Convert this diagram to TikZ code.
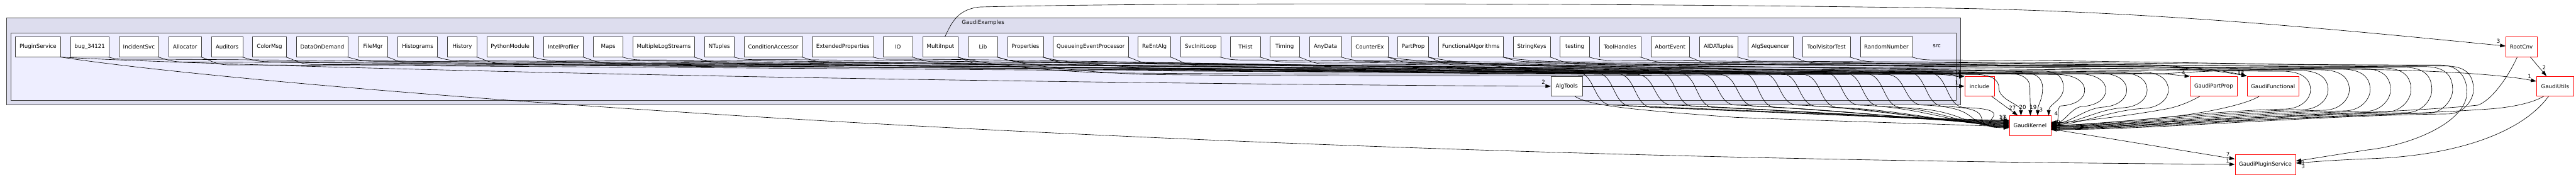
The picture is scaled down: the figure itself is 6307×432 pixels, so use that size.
\documentclass[tikz,border=0pt]{standalone}
\usepackage{fontspec}
\setmainfont{DejaVu Sans}
\usetikzlibrary{arrows.meta,calc}
\definecolor{clouter}{HTML}{DDDDEE}
\definecolor{clinner}{HTML}{EEEEFF}
\definecolor{bord}{HTML}{404040}
\newcommand\dnode[6]{%
  \pgfmathsetmacro\dnW{(#4-#3)*0.75}%
  \pgfmathsetmacro\dnC{(#3+#4)/2}%
  \node[#1, minimum width=\dnW pt] (#2) at (\dnC,#5) {#6};}
\begin{document}
\begin{tikzpicture}[x=0.75pt,y=-0.75pt,
  font=\fontsize{10}{12}\selectfont,
  dirbox/.style={draw=bord, fill=white, line width=0.75pt, minimum height=36.3pt, inner sep=0pt},
  extbox/.style={draw=red, fill=white, line width=0.75pt, minimum height=36.3pt, inner sep=0pt},
  edge/.style={draw=black, line width=0.75pt, -{Triangle[length=10pt,width=6.7pt]}},
  lab/.style={inner sep=0pt, font=\fontsize{10}{12}\selectfont}]
\useasboundingbox (0,0) rectangle (6307,432);
\fill[white] (0,0) rectangle (6307,432);
% clusters
\draw[fill=clouter, draw=bord, line width=0.75pt] (15.8,43.7) rectangle (4800.3,256);
\node[lab] (cGE) at (2407,55.7) {GaudiExamples};
\draw[fill=clinner, draw=bord, line width=0.75pt] (26.2,80) rectangle (4789.3,245);
\node[lab] (cSrc) at (4742,113) {src};
% top row
\dnode{dirbox}{t1}{37.5}{148.8}{114.5}{PluginService}
\dnode{dirbox}{t2}{172.9}{266.6}{114.5}{bug\_34121}
\dnode{dirbox}{t3}{291.4}{388.8}{114.5}{IncidentSvc}
\dnode{dirbox}{t4}{412.9}{493.5}{114.5}{Allocator}
\dnode{dirbox}{t5}{517.6}{594.4}{114.5}{Auditors}
\dnode{dirbox}{t6}{618.5}{701.2}{114.5}{ColorMsg}
\dnode{dirbox}{t7}{725.6}{852.7}{114.5}{DataOnDemand}
\dnode{dirbox}{t8}{877.1}{949.5}{114.5}{FileMgr}
\dnode{dirbox}{t9}{973.6}{1071.4}{114.5}{Histograms}
\dnode{dirbox}{t10}{1095.8}{1168.1}{114.5}{History}
\dnode{dirbox}{t11}{1191.6}{1306.6}{114.5}{PythonModule}
\dnode{dirbox}{t12}{1331.4}{1428.5}{114.5}{IntelProfiler}
\dnode{dirbox}{t13}{1453.0}{1525.3}{114.5}{Maps}
\dnode{dirbox}{t14}{1549.7}{1700.5}{114.5}{MultipleLogStreams}
\dnode{dirbox}{t15}{1724.3}{1798.0}{114.5}{NTuples}
\dnode{dirbox}{t16}{1821.8}{1964.7}{114.5}{ConditionAccessor}
\dnode{dirbox}{t17}{1988.8}{2138.6}{114.5}{ExtendedProperties}
\dnode{dirbox}{t18}{2162.4}{2234.7}{114.5}{IO}
\dnode{dirbox}{t19}{2259.1}{2345.9}{114.5}{MultiInput}
\dnode{dirbox}{t20}{2370.4}{2443.0}{114.5}{Lib}
\dnode{dirbox}{t21}{2466.5}{2554.6}{114.5}{Properties}
\dnode{dirbox}{t22}{2578.4}{2762.6}{114.5}{QueueingEventProcessor}
\dnode{dirbox}{t23}{2786.4}{2866.6}{114.5}{ReEntAlg}
\dnode{dirbox}{t24}{2891.1}{2988.5}{114.5}{SvcInitLoop}
\dnode{dirbox}{t25}{3013.0}{3085.7}{114.5}{THist}
\dnode{dirbox}{t26}{3109.1}{3181.4}{114.5}{Timing}
\dnode{dirbox}{t27}{3205.8}{3284.7}{114.5}{AnyData}
\dnode{dirbox}{t28}{3308.5}{3398.3}{114.5}{CounterEx}
\dnode{dirbox}{t29}{3422.1}{3497.9}{114.5}{PartProp}
\dnode{dirbox}{t30}{3521.6}{3680.7}{114.5}{FunctionalAlgorithms}
\dnode{dirbox}{t31}{3704.8}{3796.1}{114.5}{StringKeys}
\dnode{dirbox}{t32}{3819.5}{3891.8}{114.5}{testing}
\dnode{dirbox}{t33}{3915.6}{4017.2}{114.5}{ToolHandles}
\dnode{dirbox}{t34}{4041.7}{4136.7}{114.5}{AbortEvent}
\dnode{dirbox}{t35}{4160.5}{4255.2}{114.5}{AIDATuples}
\dnode{dirbox}{t36}{4278.9}{4390.2}{114.5}{AlgSequencer}
\dnode{dirbox}{t37}{4413.6}{4530.0}{114.5}{ToolVisitorTest}
\dnode{dirbox}{t38}{4554.4}{4682.5}{114.5}{RandomNumber}
% other nodes
\dnode{dirbox}{AT}{3797.8}{3873.9}{210.7}{AlgTools}
\dnode{extbox}{inc}{4810.3}{4882.6}{210.7}{include}
\dnode{extbox}{GK}{4919.5}{5021.4}{306.7}{GaudiKernel}
\dnode{extbox}{GPP}{5362.3}{5477.4}{210.7}{GaudiPartProp}
\dnode{extbox}{GF}{5501.8}{5628.5}{210.7}{GaudiFunctional}
\dnode{extbox}{GPS}{5472.2}{5620.6}{402.7}{GaudiPluginService}
\dnode{extbox}{RC}{6135.0}{6211.3}{114.5}{RootCnv}
\dnode{extbox}{GU}{6210.3}{6301.3}{210.7}{GaudiUtils}
% S-curve edges to GaudiKernel (left side)
\foreach \sn/\vx [count=\k from 0] in {t2/3903,t3/3951,t4/4003,t5/4051,t6/4103,t7/4154,t8/4206,t9/4254,t10/4305,t11/4357,t12/4405,t13/4457,t14/4509,t15/4560,t16/4612,t17/4664,t18/4715,t19/4767}{
  \pgfmathsetmacro\myb{144+mod(\k*7,15)}
  \pgfmathsetmacro\mys{176+mod(\k,4)*2}
  \pgfmathsetmacro\mye{257+mod(\k,3)*3}
  \pgfmathsetmacro\meo{-13+\k*1.1}
  \draw[edge] ($(\sn.south east)+(-3,0)$) .. controls +(25,7) and +(-40,0) .. ($(\sn.south east)+(70,\myb-138.5)$) .. controls +(400,0) and (\vx-400,\mys) .. (\vx-45,\mys) .. controls (\vx+5,\mys) and (\vx-5,\mye) .. (\vx+45,\mye) .. controls (\vx+200,\mye+5) and (4800,306.7+\meo) .. ($(GK.west)+(0,\meo)$);
}
% edges entering GaudiKernel from the top
\foreach \sn/\tx/\ex/\lx/\ly/\lab [count=\k from 0] in {t20/4894/4948/4952/262/20, t21/4970/4971/4978/263/19, t22/5001/4989/4997/268/3, t23/5052/5016/5034/277/4}{
  \pgfmathsetmacro\myb{150+\k*3}
  \pgfmathsetmacro\mys{182-\k*3}
  \draw[edge] ($(\sn.south east)+(-3,0)$) .. controls +(25,7) and +(-40,0) .. ($(\sn.south east)+(70,\myb-138.5)$) .. controls +(400,0) and (\tx-400,\mys) .. (\tx-60,\mys) .. controls (\tx-15,\mys) and (\tx,\mys+15) .. (\tx,215) .. controls (\tx,245) and (\ex,255) .. (\ex,282.7);
  \node[lab] (lt\k) at (\lx,\ly) {\lab};
}
% bulging edges entering GaudiKernel from the right
\foreach \sn/\bx [count=\k from 0] in {t24/5104,t25/5156,t26/5207,t27/5257,t28/5309,t29/5657,t30/5700,t31/5752,t32/5803,t33/5853,t34/5903,t35/5954,t36/6005,t38/6056}{
  \pgfmathsetmacro\myb{146+mod(\k*5,13)}
  \pgfmathsetmacro\mys{182-\k*1.6}
  \pgfmathsetmacro\mye{257+\k*1.5}
  \pgfmathsetmacro\meo{-8+\k*1.4}
  \pgfmathsetmacro\cA{\bx-60-0.35*(\bx-5081)}
  \pgfmathsetmacro\cB{5021+0.25*(\bx-5021)}
  \draw[edge] ($(\sn.south east)+(-3,0)$) .. controls +(25,7) and +(-40,0) .. ($(\sn.south east)+(70,\myb-138.5)$) .. controls +(400,0) and (\bx-400,\mys) .. (\bx-70,\mys) .. controls (\bx-20,\mys) and (\bx,\mys+20) .. (\bx,220) .. controls (\bx,240) and (\bx-20,\mye) .. (\bx-60,\mye+2) .. controls (\cA,\mye+6) and (\cB,306.7+\meo) .. ($(GK.east)+(0,\meo)$);
}
\node[lab] (lk1) at (4903,287) {17};
\node[lab] (lk2) at (4905,288) {16};
\node[lab] (lk3) at (5040,300) {9};
\node[lab] (lk4) at (5041,309) {5};
\node[lab] (lk5) at (5040,316) {3};
% ToolVisitorTest -> GaudiPluginService via far bulge
\draw[edge] ($(t37.south east)+(-3,0)$) .. controls +(25,7) and +(-40,0) .. ($(t37.south east)+(70,12)$) .. controls +(400,0) and (5640,159) .. (5975,159) .. controls (6020,159) and (6040,190) .. (6040,225) .. controls (6040,300) and (5900,355) .. (5800,366) .. controls (5720,378) and (5660,388) .. ($(GPS.east)+(0,-9)$);
\node[lab] (lg3) at (5639,407) {3};
% PluginService edges
\draw[edge] ($(t1.south east)+(-3,0)$) .. controls (250,148) and (1500,195) .. (3720,210.7) -- (AT.west);
\node[lab] (la2) at (3779,200) {2};
\draw[edge] ($(t1.south east)+(-3,0)$) .. controls (600,210) and (2700,385) .. ($(GPS.west)+(0,-1)$);
\node[lab] (lg1) at (5454,393) {1};
% MultiInput -> RootCnv
\draw[edge] ($(t19.north)+(11,0)$) .. controls (2330,55) and (2345,22) .. (2400,17) .. controls (2900,5) and (4000,8) .. (4770,20) .. controls (5300,28) and (5800,80) .. ($(RC.west)+(0,-2)$);
\node[lab] (lr3) at (6117,100) {3};
% edges to include
\draw[edge] ($(t19.south east)+(-3,0)$) .. controls +(40,12) and (2500,170) .. (2700,178) .. controls (3500,186) and (4500,176) .. (4740,178) .. controls (4775,180) and (4792,186) .. (inc.north west);
\draw[edge] ($(t20.south east)+(-3,0)$) .. controls +(40,14) and (2600,174) .. (2800,182) .. controls (3500,190) and (4500,180) .. (4745,182) .. controls (4778,183) and (4794,188) .. (inc.north west);
\node[lab] (li1) at (4794,177) {14};
\node[lab] (li2) at (4794,177) {11};
% PartProp -> GaudiPartProp
\draw[edge] ($(t29.south east)+(-3,0)$) .. controls +(40,10) and (3700,170) .. (3900,176) .. controls (4500,184) and (5200,175) .. (5300,181) .. controls (5330,183) and (5350,186) .. (GPP.north west);
\node[lab] (lp4) at (5346,178) {4};
% -> GaudiFunctional
\draw[edge] ($(t30.south east)+(-3,0)$) .. controls +(40,10) and (3900,158) .. (4200,158) .. controls (4800,160) and (5200,158) .. (5300,161) .. controls (5400,165) and (5470,178) .. (GF.north west);
\draw[edge] ($(t28.south east)+(-3,0)$) .. controls +(40,10) and (3700,164) .. (4000,164) .. controls (4800,166) and (5200,160) .. (5300,164) .. controls (5400,168) and (5470,180) .. (GF.north west);
\node[lab] (lf1) at (5486,177) {12};
\node[lab] (lf2) at (5486,177) {14};
% Properties -> GaudiUtils
\draw[edge] ($(t21.south east)+(-3,0)$) .. controls +(40,14) and (2800,172) .. (3100,174) .. controls (4000,180) and (5100,182) .. (5300,180) .. controls (5600,160) and (6050,168) .. ($(GU.west)+(0,-12)$);
\node[lab] (lu1) at (6193,187) {1};
% AlgTools edges
\draw[edge] (AT.east) -- (inc.west);
\node[lab] (li3) at (4791,202) {1};
\draw[edge] ($(AT.south)+(20,0)$) .. controls (3890,258) and (3990,268) .. (4250,287) .. controls (4600,300) and (4850,306) .. ($(GK.west)+(0,4)$);
% include -> GaudiKernel
\draw[edge] ($(inc.south east)+(-7,0)$) -- ($(GK.north west)+(21,0)$);
\node[lab] (lk27) at (4927,264) {27};
% GaudiPartProp / GaudiFunctional -> GaudiKernel
\draw[edge] ($(GPP.south west)+(24,0)$) .. controls (5360,250) and (5330,262) .. (5300,267) .. controls (5200,285) and (5080,298) .. ($(GK.east)+(0,-6)$);
\draw[edge] ($(GF.south west)+(30,0)$) .. controls (5500,255) and (5400,277) .. (5300,287) .. controls (5200,297) and (5090,304) .. ($(GK.east)+(0,2)$);
% RootCnv edges
\draw[edge] ($(RC.south)+(-10,0)$) .. controls (6140,190) and (6100,245) .. (6067,257) .. controls (5900,276) and (5200,298) .. ($(GK.east)+(0,6)$);
\draw[edge] ($(RC.south east)+(-17,0)$) -- ($(GU.north)+(-21,0)$);
\node[lab] (lu2) at (6229,165) {2};
% GaudiUtils edges
\draw[edge] ($(GU.south west)+(18,0)$) .. controls (6200,252) and (6150,262) .. (6100,266) .. controls (5900,281) and (5300,300) .. ($(GK.east)+(0,10)$);
\draw[edge] ($(GU.south west)+(30,0)$) .. controls (6170,330) and (6000,382) .. (5800,388) .. controls (5700,392) and (5660,396) .. ($(GPS.east)+(0,-4)$);
\node[lab] (lg4) at (5639,398) {1};
% GaudiKernel -> GaudiPluginService
\draw[edge] ($(GK.south east)+(0,-16)$) -- ($(GPS.west)+(0,-14)$);
\node[lab] (lg7) at (5455,378) {7};
\end{tikzpicture}
\end{document}
